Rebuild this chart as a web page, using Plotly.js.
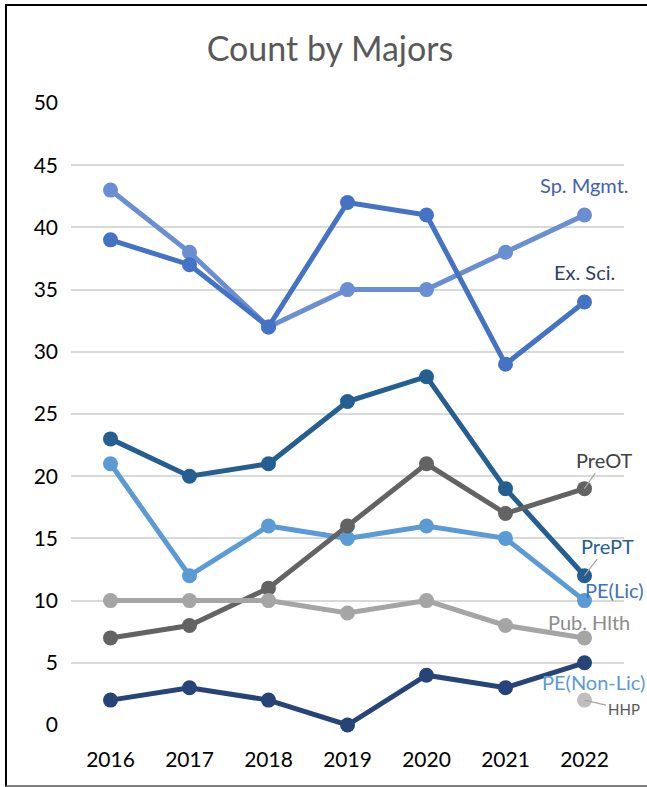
<!DOCTYPE html>
<html>
<head>
<meta charset="utf-8">
<script src="https://cdn.plot.ly/plotly-3.0.1.min.js"></script>
<style>
  html, body { margin: 0; padding: 0; background: #fff; }
  #wrap { position: relative; width: 647px; height: 787px; overflow: hidden; }
  #chart { position: absolute; left: 0; top: 0; width: 647px; height: 787px; }
  #frame { position: absolute; left: 5px; top: 4px; width: 650px; height: 779px;
           border-left: 2px solid #000; border-top: 2px solid #000; border-bottom: 2px solid #7f7f7f;
           pointer-events: none; }
</style>
</head>
<body>
<div id="wrap"><div id="chart"></div><div id="frame"></div></div>
<script>
const years = ['2016', '2017', '2018', '2019', '2020', '2021', '2022'];
const spMgmt   = [43, 38, 32, 35, 35, 38, 41];
const exSci    = [39, 37, 32, 42, 41, 29, 34];
const prePT    = [23, 20, 21, 26, 28, 19, 12];
const peLic    = [21, 12, 16, 15, 16, 15, 10];
const preOT    = [7, 8, 11, 16, 21, 17, 19];
const pubHlth  = [10, 10, 10, 9, 10, 8, 7];
const peNonLic = [2, 3, 2, 0, 4, 3, 5];
const hhp      = [null, null, null, null, null, null, 2];

const seriesNames = ['Sp. Mgmt.', 'Ex. Sci.', 'PrePT', 'PE(Lic)', 'PreOT', 'Pub. Hlth', 'PE(Non-Lic)', 'HHP'];
const seriesVals = [spMgmt, exSci, prePT, peLic, preOT, pubHlth, peNonLic, hhp];
const lineColors = ['#6A8ED2', '#4472C4', '#255E91', '#5B9BD5', '#636363', '#A5A5A5', '#264478', '#BFBFBF'];
const textColors = ['#3F62AE', '#2F3F66', '#255E91', '#3A72BE', '#404040', '#8C8C8C', '#5B9BD5', '#595959'];
const labelOpts = [
  {xshift: 0, yshift: 30},
  {xshift: 0, yshift: 30},
  {arrow: true, ax: 23, ay: -30},
  {xshift: 30, yshift: 11},
  {arrow: true, ax: 20, ay: -29},
  {xshift: 4, yshift: 16},
  {xshift: 9, yshift: -19},
  {arrow: true, ax: 39, ay: 9, size: 15}
];

const traces = seriesNames.map((n, i) => ({
  x: years, y: seriesVals[i], name: n, type: 'scatter', mode: 'lines+markers',
  line: {color: lineColors[i], width: 5}, marker: {color: lineColors[i], size: 15},
  cliponaxis: false, connectgaps: false
}));

const last = years.length - 1;
const annotations = seriesNames.map((n, i) => {
  const o = labelOpts[i];
  const a = {
    x: last, y: seriesVals[i][last], xref: 'x', yref: 'y', text: n,
    font: {family: 'Lato', size: o.size || 20, color: textColors[i]}
  };
  if (o.arrow) {
    a.showarrow = true; a.arrowhead = 0; a.arrowwidth = 1.2; a.arrowcolor = '#A6A6A6';
    a.ax = o.ax; a.ay = o.ay;
  } else {
    a.showarrow = false; a.xshift = o.xshift; a.yshift = o.yshift;
  }
  return a;
});

const layout = {
  width: 647, height: 787,
  margin: {l: 71, r: 23, t: 103, b: 62},
  paper_bgcolor: '#fff', plot_bgcolor: '#fff',
  showlegend: false,
  title: {text: 'Count by Majors', x: 0.51, xanchor: 'center', y: 0.938, yanchor: 'middle',
          font: {family: 'Lato', size: 34, color: '#595959'}},
  font: {family: 'Lato', color: '#000'},
  xaxis: {type: 'category', range: [-0.5, 6.5], showgrid: false, zeroline: false, showline: false,
          ticks: '', ticklabelstandoff: 20, tickfont: {size: 21, color: '#000'}},
  yaxis: {range: [0, 50], dtick: 5, showgrid: true, gridcolor: '#D9D9D9', gridwidth: 1.5,
          zeroline: false, showline: false, ticks: '', ticklabelstandoff: 12,
          tickfont: {size: 21, color: '#000'}},
  annotations: annotations
};

Plotly.newPlot('chart', traces, layout, {displayModeBar: false});
</script>
</body>
</html>
